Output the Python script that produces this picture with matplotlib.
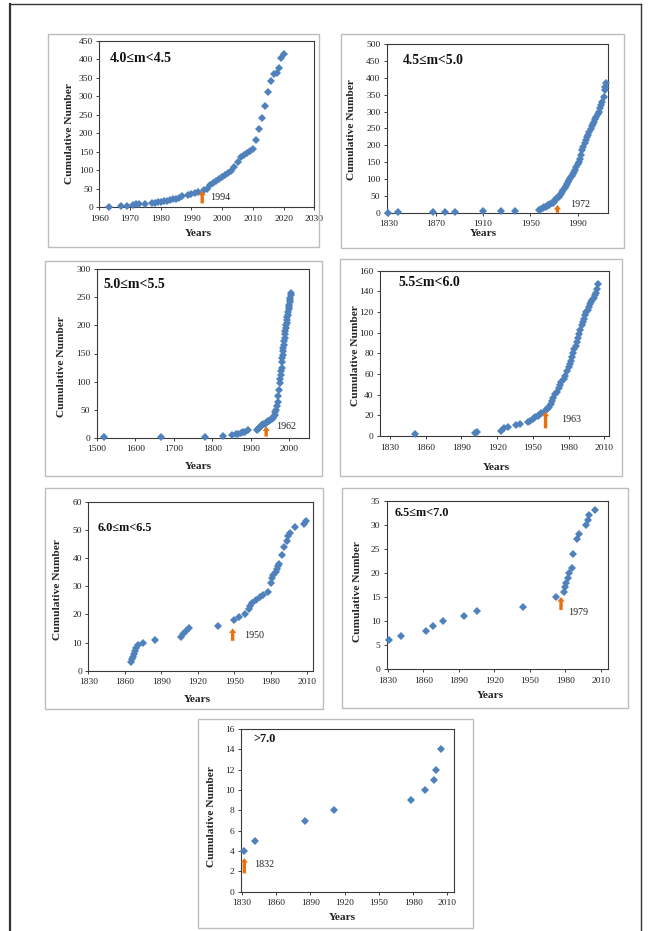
import matplotlib
matplotlib.use("Agg")
import matplotlib.pyplot as plt
from matplotlib.lines import Line2D
from matplotlib.patches import Rectangle, Polygon
from matplotlib.transforms import IdentityTransform

# ---------------- data ----------------
# Panel 1: 4.0<=m<4.5
years_p1 = [1963, 1967, 1969, 1971, 1972, 1973, 1975, 1977, 1978, 1979, 1980, 1981, 1982,
            1983, 1984, 1985, 1986, 1987, 1989, 1990, 1991, 1992, 1994, 1995, 1996, 1997,
            1998, 1999, 2000, 2001, 2002, 2003, 2004, 2005, 2006, 2007, 2008, 2009, 2010,
            2011, 2012, 2013, 2014, 2015, 2016, 2017, 2018, 2018.4, 2019, 2020]
count_p1 = [0, 2, 3, 5, 7, 8, 9, 11, 12, 13, 14, 15, 17, 19, 21, 23, 25, 30, 32, 36, 38,
            40, 45, 50, 60, 66, 70, 75, 82, 87, 92, 98, 109, 123, 135, 141, 146, 152, 157,
            180, 210, 240, 272, 310, 340, 360, 362, 375, 403, 415]

# Panel 2: 4.5<=m<5.0
years_p2 = [1830, 1838, 1868, 1878, 1886, 1910, 1925, 1937, 1957, 1959, 1961, 1962, 1963,
            1964, 1965, 1966, 1967, 1968, 1969, 1970, 1971, 1972, 1973, 1974, 1975, 1976,
            1977, 1978, 1979, 1980, 1981, 1982, 1983, 1984, 1985, 1986, 1987, 1988, 1989,
            1990, 1991, 1992, 1993, 1994, 1995, 1996, 1997, 1998, 1999, 2000, 2001, 2002,
            2003, 2004, 2005, 2006, 2007, 2008, 2009, 2010, 2011, 2012, 2013, 2013.6, 2014.3]
count_p2 = [0, 1, 1, 2, 3, 4, 4, 5, 8, 11, 14, 16, 18, 20, 22, 24, 26, 28, 30, 33, 37, 40,
            44, 48, 52, 57, 62, 67, 72, 78, 84, 90, 96, 102, 108, 114, 120, 128, 136, 145,
            152, 160, 172, 185, 196, 206, 215, 224, 232, 240, 248, 256, 263, 270, 278, 285,
            292, 298, 310, 320, 330, 345, 365, 372, 385]

# Panel 3: 5.0<=m<5.5
years_p3 = [1520, 1668, 1780, 1827, 1850, 1861, 1868, 1874, 1880, 1885, 1893, 1915, 1918,
            1921, 1924, 1927, 1930, 1933, 1936, 1939, 1942, 1945, 1948, 1951, 1954, 1957,
            1960, 1962, 1964, 1966, 1968, 1970, 1972, 1974, 1976, 1977, 1978, 1979, 1980,
            1981, 1982, 1983, 1984, 1985, 1986, 1987, 1988, 1989, 1990, 1991, 1992, 1993,
            1994, 1995, 1996, 1997, 1998, 1999, 2000, 2001, 2002, 2003, 2004, 2005]
count_p3 = [1, 2, 2, 3, 4, 6, 7, 9, 10, 11, 13, 13, 15, 17, 19, 21, 23, 24, 25, 27, 28, 29,
            30, 31, 33, 35, 38, 41, 45, 50, 57, 64, 74, 85, 98, 104, 112, 118, 125, 135, 142,
            148, 155, 160, 166, 172, 178, 185, 190, 195, 200, 205, 210, 215, 219, 224, 229,
            233, 237, 241, 245, 249, 254, 258]

# Panel 4: 5.5<=m<6.0
years_p4 = [1851, 1901, 1903, 1923, 1926, 1929, 1936, 1939, 1946, 1948, 1950, 1952, 1954,
            1955, 1957, 1960, 1962, 1963, 1964, 1965, 1966, 1967, 1969, 1970, 1972, 1973,
            1974, 1976, 1977, 1979, 1980, 1981, 1982, 1983, 1984, 1985, 1986, 1987, 1988,
            1989, 1990, 1991, 1992, 1993, 1994, 1995, 1996, 1997, 1998, 1999, 2000, 2001,
            2002, 2003, 2004, 2005]
count_p4 = [2, 3, 4, 5, 8, 9, 11, 12, 14, 15, 16, 18, 19, 20, 22, 24, 26, 27, 28, 31, 34,
            37, 41, 43, 46, 49, 52, 55, 58, 63, 67, 70, 73, 76, 80, 84, 87, 91, 95, 99, 103,
            107, 110, 113, 117, 120, 122, 125, 128, 130, 132, 134, 136, 138, 142, 147]

# Panel 5: 6.0<=m<6.5
years_p5 = [1865, 1866, 1866.6, 1867.3, 1868.3, 1869.5, 1871, 1875, 1885, 1906, 1908, 1910,
            1913, 1937, 1950, 1954, 1959, 1962, 1963, 1965, 1968, 1971, 1974, 1978, 1980,
            1981, 1982, 1984, 1985, 1986, 1987, 1989, 1991, 1993, 1994, 1996, 2000, 2007, 2009]
count_p5 = [3, 4, 5, 6, 7, 8, 9, 10, 11, 12, 13, 14, 15, 16, 18, 19, 20, 22, 23, 24, 25,
            26, 27, 28, 31, 33, 34, 35, 36, 37, 38, 41, 44, 46, 48, 49, 51, 52, 53]

# Panel 6: 6.5<=m<7.0
years_p6 = [1831, 1841, 1862, 1868, 1877, 1894, 1905, 1944, 1972, 1979, 1980, 1981, 1982,
            1983, 1986, 1987, 1990, 1992, 1998, 1999, 2000, 2005]
count_p6 = [6, 7, 8, 9, 10, 11, 12, 13, 15, 16, 17, 18, 19, 20, 21, 24, 27, 28, 30, 31, 32, 33]

# Panel 7: >7.0
years_p7 = [1832, 1842, 1885, 1911, 1978, 1990, 1998, 2000, 2004]
count_p7 = [4, 5, 7, 8, 9, 10, 11, 12, 14]

titles = ["4.0\u2264m<4.5", "4.5\u2264m<5.0", "5.0\u2264m<5.5", "5.5\u2264m<6.0",
          "6.0\u2264m<6.5", "6.5\u2264m<7.0", ">7.0"]
onset_labels = ["1994", "1972", "1962", "1963", "1950", "1979", "1832"]
xtick_sets = [[1960, 1970, 1980, 1990, 2000, 2010, 2020, 2030],
              [1830, 1870, 1910, 1950, 1990],
              [1500, 1600, 1700, 1800, 1900, 2000],
              [1830, 1860, 1890, 1920, 1950, 1980, 2010],
              [1830, 1860, 1890, 1920, 1950, 1980, 2010],
              [1830, 1860, 1890, 1920, 1950, 1980, 2010],
              [1830, 1860, 1890, 1920, 1950, 1980, 2010]]
ytick_sets = [list(range(0, 451, 50)), list(range(0, 501, 50)), list(range(0, 301, 50)),
              list(range(0, 161, 20)), list(range(0, 61, 10)), list(range(0, 36, 5)),
              list(range(0, 17, 2))]
series = [(years_p1, count_p1), (years_p2, count_p2), (years_p3, count_p3),
          (years_p4, count_p4), (years_p5, count_p5), (years_p6, count_p6),
          (years_p7, count_p7)]

# ---------------- layout (pixels) ----------------
W, H = 648, 931
BLUE = "#4F81BD"
ORANGE = "#E8700E"

layout = [
    dict(box=(48, 34, 319, 247), plot=(99.3, 40.7, 314.3, 207), xlim=(1960, 2030), ms=3.6,
         tpos=(110, 59), tfs=10, arrow=(1993.5, 10, 44), lab=(1996, 25),
         ylab=(69, 134), xlab=(198, 234)),
    dict(box=(341, 34, 624, 248), plot=(386.7, 44.3, 608.3, 212.7), xlim=(1828.6, 2016), ms=3.6,
         tpos=(403, 60), tfs=9.8, arrow=(1973, 0, 23), lab=(1983.5, 25),
         ylab=(352, 130), xlab=(483, 233)),
    dict(box=(45, 261, 322, 476), plot=(96.7, 269.3, 309.3, 437.7), xlim=(1500, 2052), ms=3.6,
         tpos=(103, 284), tfs=10, arrow=(1940, 2, 20), lab=(1967, 20),
         ylab=(62, 367), xlab=(198, 466)),
    dict(box=(340, 259, 622, 476), plot=(380, 270.7, 609, 436), xlim=(1821.6, 2014), ms=3.6,
         tpos=(398, 282), tfs=10, arrow=(1960.7, 7.4, 23.5), lab=(1973.5, 15.5),
         ylab=(355, 356), xlab=(496, 467)),
    dict(box=(45, 488, 323, 709), plot=(88.3, 501.7, 313.3, 670.7), xlim=(1830, 2015), ms=4.4,
         tpos=(98, 528), tfs=8.8, arrow=(1948.7, 10.6, 15), lab=(1958.3, 12.4),
         ylab=(57, 590), xlab=(197, 699)),
    dict(box=(342, 488, 628, 708), plot=(386.7, 500.7, 607.7, 669.3), xlim=(1829, 2016), ms=4.4,
         tpos=(395, 513), tfs=8.8, arrow=(1976.5, 12.3, 15), lab=(1982.7, 11.8),
         ylab=(357, 592), xlab=(490, 695)),
    dict(box=(198, 719, 473, 928), plot=(241, 729, 454.3, 891.7), xlim=(1829.4, 2016), ms=4.4,
         tpos=(253, 739), tfs=8.8, arrow=(1832.3, 1.8, 3.3), lab=(1841, 2.7),
         ylab=(212, 817), xlab=(342, 918)),
]

plt.rcParams["font.family"] = ["Liberation Serif", "DejaVu Serif"]

fig = plt.figure(figsize=(W / 100, H / 100), dpi=100)


def fx(x):
    return x / W


def fy(y):
    return 1 - y / H


# outer frame
fig.add_artist(Line2D([fx(10), fx(10)], [fy(4), fy(931)], color="#333333", lw=1.6))
fig.add_artist(Line2D([fx(10), fx(641)], [fy(4), fy(4)], color="#333333", lw=1.0))
fig.add_artist(Line2D([fx(641), fx(641)], [fy(4), fy(931)], color="#333333", lw=1.0))

for i, spec in enumerate(layout):
    bx0, by0, bx1, by1 = spec["box"]
    fig.add_artist(Rectangle((fx(bx0), fy(by1)), fx(bx1 - bx0), (by1 - by0) / H,
                             fill=False, ec="#BDBDBD", lw=1.0))
    px0, py0, px1, py1 = spec["plot"]
    ax = fig.add_axes([fx(px0), fy(py1), fx(px1 - px0), (py1 - py0) / H])
    yrs, cnt = series[i]
    ax.plot(yrs, cnt, linestyle="none", marker="D", ms=spec["ms"], color=BLUE,
            markeredgewidth=0, clip_on=False, zorder=3)
    ax.set_xlim(*spec["xlim"])
    yt = ytick_sets[i]
    ax.set_ylim(yt[0], yt[-1])
    ax.set_xticks(xtick_sets[i])
    ax.set_yticks(yt)
    ax.tick_params(direction="out", length=2.5, width=0.6, labelsize=6.8, colors="#222222",
                   pad=2)
    ax.tick_params(axis="x", pad=3)
    for s in ax.spines.values():
        s.set_color("#3A3A3A")
        s.set_linewidth(0.8)
    # onset block arrow (built in display pixels from the data position)
    axx, yb, ytp = spec["arrow"]
    (x0, y0) = ax.transData.transform((axx, yb))
    (_, y1) = ax.transData.transform((axx, ytp))
    sw, hw, hl = 1.7, 3.6, 4.5
    pts = [(x0 - sw, y0), (x0 + sw, y0), (x0 + sw, y1 - hl), (x0 + hw, y1 - hl),
           (x0, y1), (x0 - hw, y1 - hl), (x0 - sw, y1 - hl)]
    fig.add_artist(Polygon(pts, closed=True, transform=IdentityTransform(),
                           fc=ORANGE, ec="none", zorder=5))
    lx, ly = spec["lab"]
    ax.text(lx, ly, onset_labels[i], fontsize=7.2, ha="left", va="center", color="#222222")
    # title
    tx, ty = spec["tpos"]
    fig.text(fx(tx), fy(ty), titles[i], fontsize=spec["tfs"], fontweight="bold",
             ha="left", va="center", color="#111111")
    # axis labels
    yx, yy = spec["ylab"]
    fig.text(fx(yx), fy(yy), "Cumulative Number", rotation=90, fontsize=8.2,
             fontweight="bold", ha="center", va="center", color="#222222")
    xx, xy = spec["xlab"]
    fig.text(fx(xx), fy(xy), "Years", fontsize=8.2, fontweight="bold",
             ha="center", va="center", color="#222222")

fig.savefig("out.png", dpi=100)
